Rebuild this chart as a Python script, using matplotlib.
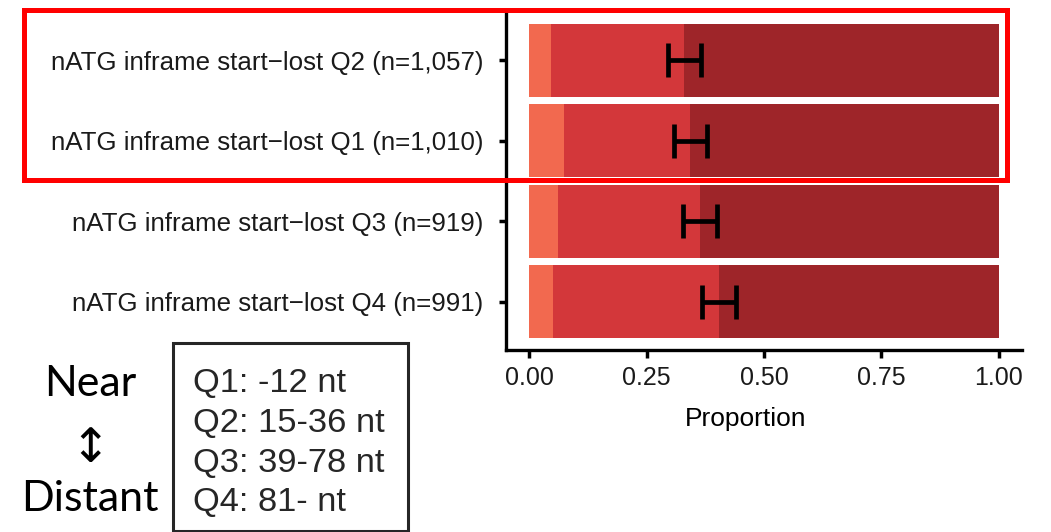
import matplotlib.pyplot as plt
from matplotlib.patches import Rectangle

# Данные (сверху вниз на графике)
labels = ['nATG inframe start\u2212lost Q2 (n=1,057)',
          'nATG inframe start\u2212lost Q1 (n=1,010)',
          'nATG inframe start\u2212lost Q3 (n=919)',
          'nATG inframe start\u2212lost Q4 (n=991)']
light = [0.047, 0.074, 0.061, 0.050]     # первая (светлая) доля
mid = [0.283, 0.269, 0.303, 0.354]       # вторая доля
dark = [0.670, 0.657, 0.636, 0.596]      # остаток
err_center = [0.330, 0.343, 0.364, 0.404]
err_half = [0.035, 0.035, 0.036, 0.036]

legend_lines = ['Q1: -12 nt', 'Q2: 15-36 nt', 'Q3: 39-78 nt', 'Q4: 81- nt']

c_light = '#F2694F'
c_mid = '#D3373A'
c_dark = '#9E2529'

fig = plt.figure(figsize=(10.51, 5.32), dpi=100)
ax = fig.add_axes([0.4814, 0.3421, 0.491, 0.6353])

y = [4, 3, 2, 1]
left_mid = [a for a in light]
left_dark = [a + b for a, b in zip(light, mid)]
ax.barh(y, light, height=0.91, color=c_light, edgecolor='none')
ax.barh(y, mid, left=left_mid, height=0.91, color=c_mid, edgecolor='none')
ax.barh(y, dark, left=left_dark, height=0.91, color=c_dark, edgecolor='none')
ax.errorbar(err_center, y, xerr=err_half, fmt='none', ecolor='black',
            elinewidth=3.4, capsize=12, capthick=3.4)

ax.set_xlim(-0.05, 1.05)
ax.set_ylim(0.4, 4.6)
ax.set_yticks(y)
ax.set_yticklabels(labels, fontsize=18.6, family='Liberation Sans', color='#1a1a1a')
ax.set_xticks([0, 0.25, 0.5, 0.75, 1.0])
ax.set_xticklabels(['0.00', '0.25', '0.50', '0.75', '1.00'], fontsize=18,
                   family='Liberation Sans', color='#1a1a1a')
ax.set_xlabel('Proportion', fontsize=19, family='Liberation Sans')
ax.xaxis.set_label_coords(0.465, -0.17)
for s in ['top', 'right']:
    ax.spines[s].set_visible(False)
for s in ['left', 'bottom']:
    ax.spines[s].set_linewidth(2.4)
ax.tick_params(axis='y', length=5, width=2.5, pad=11)
ax.tick_params(axis='x', length=5.5, width=2.5, pad=6)

# Красная рамка вокруг Q2 и Q1
fig.patches.append(Rectangle((24 / 1051, 1 - 180 / 532), (1007 - 24) / 1051, (180 - 10) / 532,
                             transform=fig.transFigure, fill=False,
                             edgecolor='#FF0000', linewidth=3.6))

# Блок с пояснением квартилей
fig.patches.append(Rectangle((173 / 1051, 1 - 531 / 532), (408 - 173) / 1051, (531 - 343) / 532,
                             transform=fig.transFigure, fill=False,
                             edgecolor='#262626', linewidth=2.2))
for i, t in enumerate(legend_lines):
    fig.text(193 / 1051, 1 - (384 + 39.5 * i) / 532, t, fontsize=24.8,
             family='Liberation Sans', color='#262626', va='center', ha='left')

fig.text(90 / 1051, 1 - 384 / 532, 'Near', fontsize=31, family=['Lato', 'DejaVu Sans'],
         ha='center', va='center')
fig.text(90 / 1051, 1 - 450 / 532, '\u2195', fontsize=34, family='DejaVu Sans',
         ha='center', va='center')
fig.text(90 / 1051, 1 - 499 / 532, 'Distant', fontsize=31, family=['Lato', 'DejaVu Sans'],
         ha='center', va='center')

plt.savefig('out.png', dpi=100)
plt.close()
